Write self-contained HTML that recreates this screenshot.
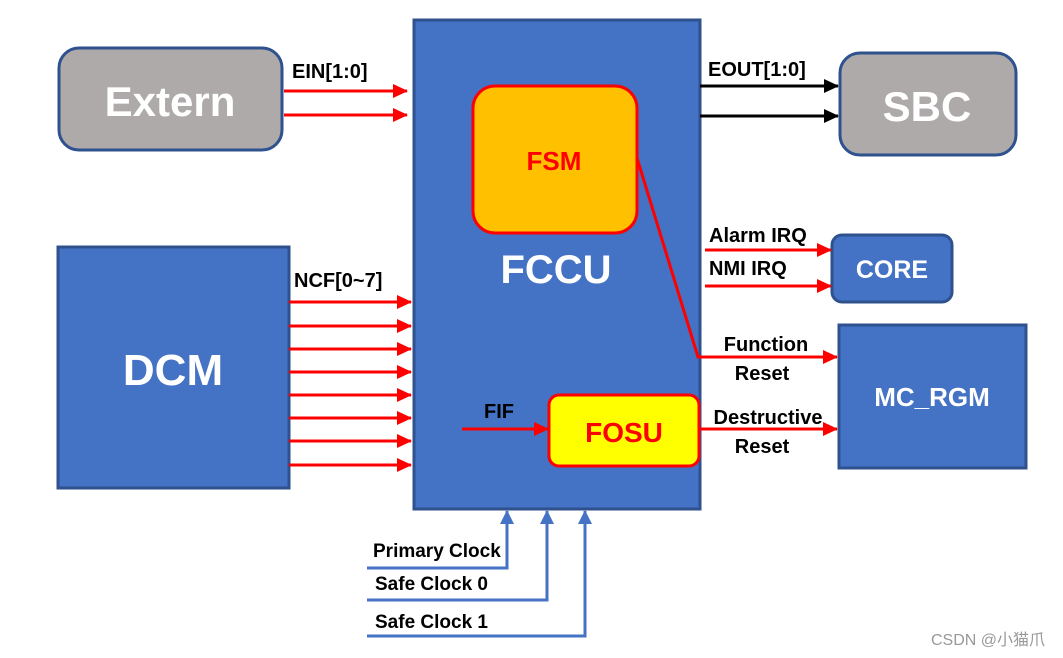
<!DOCTYPE html>
<html><head><meta charset="utf-8"><style>
html,body{margin:0;padding:0;background:#fff;}
svg{display:block;font-family:"Liberation Sans","Noto Sans CJK SC",sans-serif;}
</style></head><body>
<svg width="1063" height="658" viewBox="0 0 1063 658" xmlns="http://www.w3.org/2000/svg">
<defs>
<marker id="ar" markerWidth="16" markerHeight="16" refX="14" refY="7" orient="auto" markerUnits="userSpaceOnUse"><path d="M0,0 L15,7 L0,14 z" fill="#f00"/></marker>
<marker id="ab" markerWidth="16" markerHeight="16" refX="14" refY="7" orient="auto" markerUnits="userSpaceOnUse"><path d="M0,0 L15,7 L0,14 z" fill="#000"/></marker>
<marker id="au" markerWidth="16" markerHeight="16" refX="13" refY="8" orient="auto" markerUnits="userSpaceOnUse"><path d="M0,1 L14,8 L0,15 z" fill="#4472C4"/></marker>
</defs>
<rect x="414" y="20" width="286" height="489" fill="#4472C4" stroke="#2F528F" stroke-width="3"/>
<text x="556" y="283" fill="#fff" font-size="40" font-weight="bold" text-anchor="middle">FCCU</text>
<rect x="473" y="86" width="164" height="147" rx="22" fill="#FFC000" stroke="#f00" stroke-width="3"/>
<text x="554" y="170" fill="#f00" font-size="26" font-weight="bold" text-anchor="middle">FSM</text>
<rect x="549" y="395" width="150" height="71" rx="10" fill="#ffff00" stroke="#f00" stroke-width="3"/>
<text x="624" y="442" fill="#f00" font-size="28" font-weight="bold" text-anchor="middle">FOSU</text>
<rect x="59" y="48" width="223" height="102" rx="20" fill="#AEAAAA" stroke="#2F528F" stroke-width="3"/>
<text x="170" y="116" fill="#fff" font-size="42" font-weight="bold" text-anchor="middle">Extern</text>
<rect x="840" y="53" width="176" height="102" rx="20" fill="#AEAAAA" stroke="#2F528F" stroke-width="3"/>
<text x="927" y="121" fill="#fff" font-size="42" font-weight="bold" text-anchor="middle">SBC</text>
<rect x="58" y="247" width="231" height="241" fill="#4472C4" stroke="#2F528F" stroke-width="3"/>
<text x="173" y="385" fill="#fff" font-size="44" font-weight="bold" text-anchor="middle">DCM</text>
<rect x="832" y="235" width="120" height="67" rx="10" fill="#4472C4" stroke="#2F528F" stroke-width="3"/>
<text x="892" y="278" fill="#fff" font-size="25" font-weight="bold" text-anchor="middle">CORE</text>
<rect x="839" y="325" width="187" height="143" fill="#4472C4" stroke="#2F528F" stroke-width="3"/>
<text x="932" y="406" fill="#fff" font-size="26" font-weight="bold" text-anchor="middle">MC_RGM</text>
<g stroke="#f00" stroke-width="3" fill="none">
<line x1="284" y1="91" x2="407" y2="91" marker-end="url(#ar)"/>
<line x1="284" y1="115" x2="407" y2="115" marker-end="url(#ar)"/>
<line x1="289" y1="302" x2="411" y2="302" marker-end="url(#ar)"/>
<line x1="289" y1="326" x2="411" y2="326" marker-end="url(#ar)"/>
<line x1="289" y1="349" x2="411" y2="349" marker-end="url(#ar)"/>
<line x1="289" y1="372" x2="411" y2="372" marker-end="url(#ar)"/>
<line x1="289" y1="395" x2="411" y2="395" marker-end="url(#ar)"/>
<line x1="289" y1="418" x2="411" y2="418" marker-end="url(#ar)"/>
<line x1="289" y1="441" x2="411" y2="441" marker-end="url(#ar)"/>
<line x1="289" y1="465" x2="411" y2="465" marker-end="url(#ar)"/>
<line x1="462" y1="429" x2="548" y2="429" marker-end="url(#ar)"/>
<line x1="705" y1="250" x2="831" y2="250" marker-end="url(#ar)"/>
<line x1="705" y1="286" x2="831" y2="286" marker-end="url(#ar)"/>
<polyline points="637,158 698,357 837,357" marker-end="url(#ar)"/>
<line x1="700" y1="429" x2="837" y2="429" marker-end="url(#ar)"/>
</g>
<g stroke="#000" stroke-width="3">
<line x1="700" y1="86" x2="838" y2="86" marker-end="url(#ab)"/>
<line x1="700" y1="116" x2="838" y2="116" marker-end="url(#ab)"/>
</g>
<g stroke="#4472C4" stroke-width="3" fill="none">
<polyline points="367,568 507,568 507,511" marker-end="url(#au)"/>
<polyline points="367,600 547,600 547,511" marker-end="url(#au)"/>
<polyline points="367,636 585,636 585,511" marker-end="url(#au)"/>
</g>
<g font-size="20" font-weight="bold" fill="#000">
<text x="292" y="78">EIN[1:0]</text>
<text x="294" y="287">NCF[0~7]</text>
<text x="708" y="76">EOUT[1:0]</text>
<text x="484" y="418">FIF</text>
<text x="709" y="242">Alarm IRQ</text>
<text x="709" y="275">NMI IRQ</text>
<text x="766" y="351" text-anchor="middle">Function</text>
<text x="762" y="380" text-anchor="middle">Reset</text>
<text x="768" y="424" text-anchor="middle">Destructive</text>
<text x="762" y="453" text-anchor="middle">Reset</text>
<text x="373" y="557" font-size="19">Primary Clock</text>
<text x="375" y="590" font-size="19">Safe Clock 0</text>
<text x="375" y="628" font-size="19">Safe Clock 1</text>
</g>
<text x="1045" y="645" fill="#999" font-size="16" text-anchor="end">CSDN @小猫爪</text>
</svg>
</body></html>
